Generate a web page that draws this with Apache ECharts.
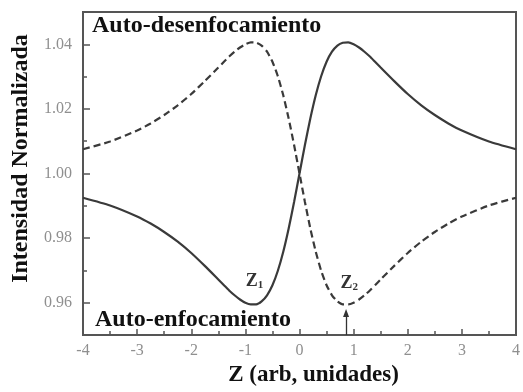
<!DOCTYPE html>
<html>
<head>
<meta charset="utf-8">
<script src="https://cdn.jsdelivr.net/npm/echarts@6/dist/echarts.min.js"></script>
<style>
html,body{margin:0;padding:0;background:#fff;}
#c{width:523px;height:392px;}
</style>
</head>
<body>
<div id="c"></div>
<script>
// ---- data ----
var zValues = [-4,-3.5,-3,-2.75,-2.5,-2.25,-2,-1.75,-1.5,-1.4,-1.3,-1.2,-1.1,-1,-0.9,-0.8,-0.7,-0.6,-0.5,-0.4,-0.3,-0.2,-0.1,0,0.1,0.2,0.3,0.4,0.5,0.6,0.7,0.8,0.9,1,1.1,1.2,1.3,1.4,1.5,1.75,2,2.25,2.5,2.75,3,3.5,4];
var solidValues = [0.9925,0.9901,0.9867,0.9845,0.9819,0.9789,0.9754,0.9714,0.9672,0.9655,0.9638,0.9623,0.9610,0.9600,0.9595,0.9595,0.9604,0.9623,0.9654,0.9699,0.9758,0.9830,0.9912,1.0000,1.0088,1.0170,1.0242,1.0301,1.0346,1.0377,1.0396,1.0405,1.0406,1.0400,1.0390,1.0377,1.0362,1.0345,1.0328,1.0286,1.0246,1.0211,1.0181,1.0155,1.0133,1.0099,1.0075];
var dashedValues = [1.0075,1.0099,1.0133,1.0155,1.0181,1.0211,1.0246,1.0286,1.0328,1.0345,1.0362,1.0377,1.0390,1.0400,1.0406,1.0405,1.0396,1.0377,1.0346,1.0301,1.0242,1.0170,1.0088,1.0000,0.9912,0.9830,0.9758,0.9699,0.9654,0.9623,0.9604,0.9595,0.9595,0.9600,0.9610,0.9623,0.9638,0.9655,0.9672,0.9714,0.9754,0.9789,0.9819,0.9845,0.9867,0.9901,0.9925];
var yLabelTicks = [0.96,0.98,1.00,1.02,1.04];
var yMinorTicks = [0.97,0.99,1.01,1.03];
var z1Label = [-0.83, 0.9667];
var z2Label = [0.92, 0.9661];
var arrowLine = [[0.86, 0.95], [0.86, 0.9568]];

function pairs(xs, ys){ return xs.map(function(x,i){ return [x, ys[i]]; }); }

var serif = '"Liberation Serif", "DejaVu Serif", serif';
var chart = echarts.init(document.getElementById('c'));
chart.setOption({
  animation: false,
  backgroundColor: '#fff',
  grid: {left: 83, top: 12, right: 6, bottom: 52, show: true, borderColor: '#555', borderWidth: 2, containLabel: false},
  xAxis: {
    type: 'value', min: -4, max: 4, interval: 1,
    name: 'Z (arb, unidades)', nameLocation: 'middle', nameGap: 29,
    nameTextStyle: {fontFamily: serif, fontWeight: 'bold', fontSize: 23, color: '#111', padding: [0,0,0,28]},
    axisLine: {show: true, onZero: false, lineStyle: {color: '#555', width: 2}},
    axisTick: {show: true, inside: true, length: 6, lineStyle: {color: '#555', width: 1.5}},
    minorTick: {show: true, splitNumber: 2, length: 4, lineStyle: {color: '#555', width: 1.5}},
    splitLine: {show: false},
    axisLabel: {fontFamily: serif, fontSize: 16, color: '#8f8f8f', margin: 8}
  },
  yAxis: [{
    type: 'value', min: 0.95, max: 1.05,
    name: 'Intensidad Normalizada', nameLocation: 'middle', nameGap: 48, nameRotate: 90,
    nameTextStyle: {fontFamily: serif, fontWeight: 'bold', fontSize: 24, color: '#111', padding: [0,0,0,30]},
    axisLine: {show: true, onZero: false, lineStyle: {color: '#555', width: 2}},
    axisTick: {show: true, inside: true, length: 7, customValues: yLabelTicks, lineStyle: {color: '#555', width: 1.5}},
    axisLabel: {fontFamily: serif, fontSize: 16, color: '#8f8f8f', margin: 11, customValues: yLabelTicks,
      formatter: function(v){ return v.toFixed(2); }},
    splitLine: {show: false}
  }, {
    type: 'value', min: 0.95, max: 1.05, position: 'left',
    axisLine: {show: false, onZero: false},
    axisTick: {show: true, inside: true, length: 4, customValues: yMinorTicks, lineStyle: {color: '#555', width: 1.5}},
    axisLabel: {show: false},
    splitLine: {show: false}
  }],
  graphic: [
    {type: 'text', left: 92, top: 14, style: {text: 'Auto-desenfocamiento', font: 'bold 24px ' + serif, fill: '#111'}},
    {type: 'text', left: 95, top: 308, style: {text: 'Auto-enfocamiento', font: 'bold 24px ' + serif, fill: '#111'}}
  ],
  series: [{
    type: 'line', data: pairs(zValues, solidValues), smooth: 0.2, showSymbol: false,
    lineStyle: {color: '#3a3a3a', width: 2.2},
    markPoint: {
      symbol: 'circle', symbolSize: 0,
      label: {show: true, position: 'inside', formatter: 'Z{s|1}', fontFamily: serif, fontWeight: 'bold', fontSize: 18, color: '#333',
        rich: {s: {fontFamily: serif, fontWeight: 'bold', fontSize: 11, color: '#333', verticalAlign: 'bottom', padding: [8,0,0,0]}}},
      data: [{coord: z1Label}]
    }
  }, {
    type: 'line', data: pairs(zValues, dashedValues), smooth: 0.2, showSymbol: false,
    lineStyle: {color: '#3a3a3a', width: 2.2, type: [7, 4]},
    markPoint: {
      symbol: 'circle', symbolSize: 0,
      label: {show: true, position: 'inside', formatter: 'Z{s|2}', fontFamily: serif, fontWeight: 'bold', fontSize: 18, color: '#333',
        rich: {s: {fontFamily: serif, fontWeight: 'bold', fontSize: 11, color: '#333', verticalAlign: 'bottom', padding: [8,0,0,0]}}},
      data: [{coord: z2Label}]
    },
    markLine: {
      silent: true, symbol: ['none', 'triangle'], symbolSize: [6, 8],
      lineStyle: {color: '#333', width: 1.3, type: 'solid'},
      label: {show: false},
      data: [[{coord: arrowLine[0]}, {coord: arrowLine[1]}]]
    }
  }]
});
</script>
</body>
</html>
